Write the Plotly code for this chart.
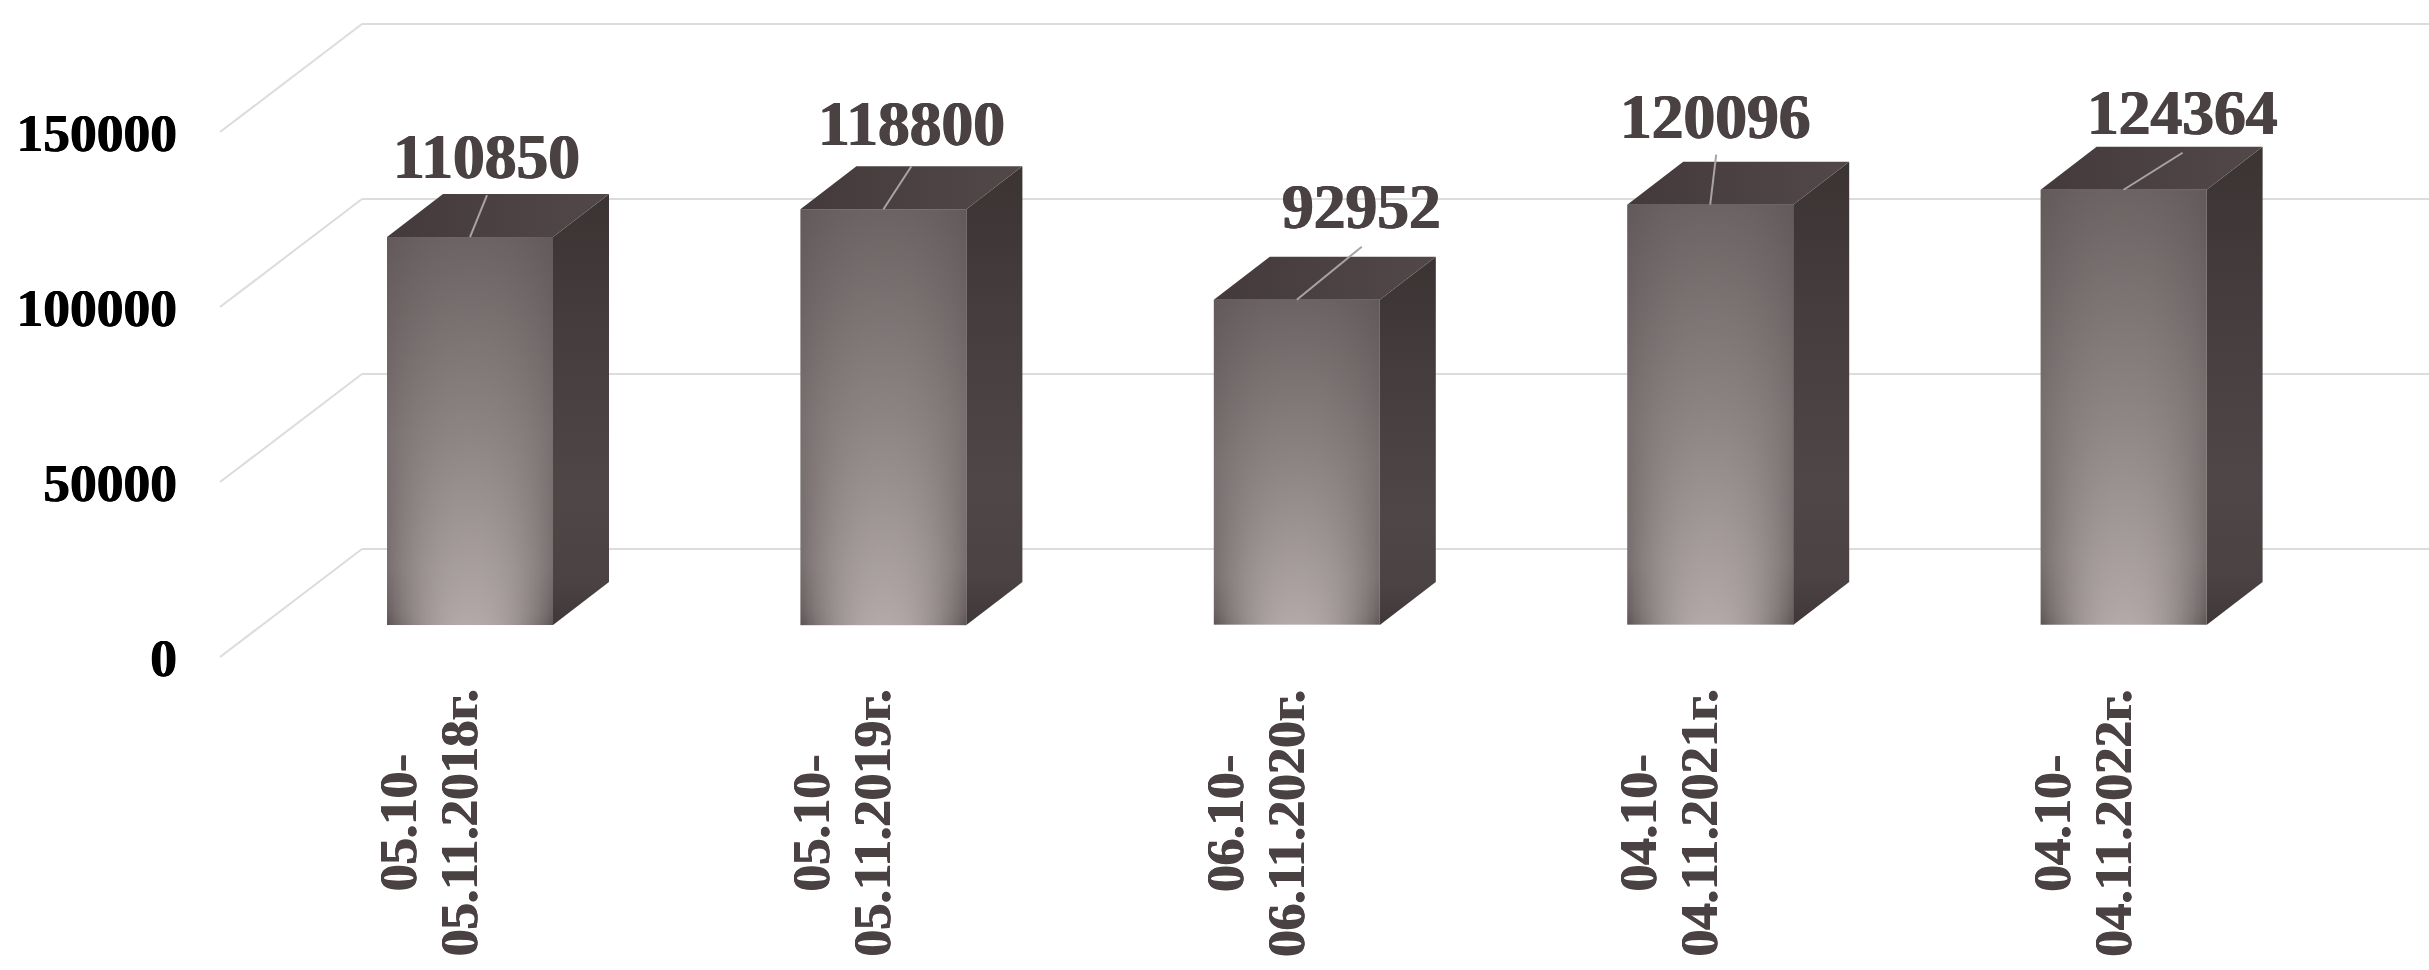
import numpy as np
import plotly.graph_objects as go

# ---- data ----
period_start = ["05.10-", "05.10-", "06.10-", "04.10-", "04.10-"]
period_end = ["05.11.2018г.", "05.11.2019г.", "06.11.2020г.", "04.11.2021г.", "04.11.2022г."]
values = [110850, 118800, 92952, 120096, 124364]
y_ticks = [0, 50000, 100000, 150000]

# label and leader-line placement relative to each bar's front top centre (px)
label_dx = [16, 28, 65, 5, 59]
label_dy = [-81, -86, -93, -88, -77]
leader_dx = [17, 28, 65, 6, 59]
leader_dy = [-42, -43, -53, -50, -37]

# ---- layout constants ----
W, H = 2429, 970
LEFT = 178
PX_Y0 = 657
PX_PER_VAL = 175 / 50000
PX_X0 = 470
PX_PER_CAT = 413.4
TEXT = "#4a4143"
FONT = "Liberation Serif"
HEAVY_TEXT = "0.7px 0 0 #4a4143, -0.7px 0 0 #4a4143"
HEAVY_BLACK = "0.6px 0 0 #000000, -0.6px 0 0 #000000"


def dx_px(p):
    return p / PX_PER_CAT


def dy_px(p):
    return p / PX_PER_VAL


x_range = [(LEFT - PX_X0) / PX_PER_CAT, (W - PX_X0) / PX_PER_CAT]
y_range = [(PX_Y0 - H) / PX_PER_VAL, PX_Y0 / PX_PER_VAL]

half_w = dx_px(83)
base = dy_px(32)
depth_x, depth_y = dx_px(56), dy_px(43)
wall_x0 = dx_px(220 - PX_X0)
wall_x1 = dx_px(362 - PX_X0)
wall_dy = dy_px(108)

fig = go.Figure()

# gridlines: side wall + back wall, below all traces
shapes = []
for v in y_ticks:
    for (x0, y0, x1, y1) in [(wall_x0, v, wall_x1, v + wall_dy), (wall_x1, v + wall_dy, x_range[1], v + wall_dy)]:
        shapes.append(dict(type="line", xref="x", yref="y", x0=x0, y0=y0, x1=x1, y1=y1,
                           layer="below", line=dict(color="#dcdcdc", width=2)))

front_scale = [[0.0, "#5a5152"], [1.0, "#b4aaaa"]]
side_scale = [[0.0, "#3f3738"], [0.1, "#4a4243"], [0.3, "#4e4647"], [0.7, "#443c3d"], [1.0, "#3b3433"]]
top_scale = [[0.0, "#443a3c"], [1.0, "#524849"]]
SHADE_Y = [0, 0.04, 0.15, 0.5, 1]
SHADE_EDGE = [0x5c, 0x6a, 0x78, 0x78, 0x62]
SHADE_CENTRE = [0xb4, 0xb0, 0xa8, 0x8d, 0x6c]

for i, v in enumerate(values):
    top = base + v
    # front face shading: bright at bottom centre, darker upward and toward the edges
    nx, ny = 70, 120
    hx = 2 * half_w / nx
    hy = v / ny
    gx = np.linspace(i - half_w + hx / 2, i + half_w - hx / 2, nx)
    gy = np.linspace(base + hy / 2, top - hy / 2, ny)
    frac_x = np.abs(gx - i) / half_w
    frac_y = (gy - base) / v
    edge = np.interp(frac_y, SHADE_Y, SHADE_EDGE)
    centre = np.interp(frac_y, SHADE_Y, SHADE_CENTRE)
    shade = edge[:, None] + (centre - edge)[:, None] * (1 - frac_x[None, :] ** 2.2)
    fig.add_trace(go.Heatmap(x=gx, y=gy, z=shade, zmin=0x5a, zmax=0xb4, colorscale=front_scale,
                             showscale=False, hoverinfo="skip", zsmooth="best"))
    # side face
    fig.add_trace(go.Scatter(
        x=[i + half_w, i + half_w + depth_x, i + half_w + depth_x, i + half_w, i + half_w],
        y=[base, base + depth_y, top + depth_y, top, base],
        mode="lines", line=dict(width=0), fill="toself",
        fillgradient=dict(type="vertical", colorscale=side_scale, start=base, stop=top + depth_y),
        hoverinfo="skip", showlegend=False))
    # top face
    fig.add_trace(go.Scatter(
        x=[i - half_w, i + half_w, i + half_w + depth_x, i - half_w + depth_x, i - half_w],
        y=[top, top, top + depth_y, top + depth_y, top],
        mode="lines", line=dict(width=0), fill="toself",
        fillgradient=dict(type="horizontal", colorscale=top_scale, start=i - half_w, stop=i + half_w + depth_x),
        hoverinfo="skip", showlegend=False))
    # leader line
    fig.add_trace(go.Scatter(
        x=[i, i + dx_px(leader_dx[i])], y=[top, top - dy_px(leader_dy[i])],
        mode="lines", line=dict(color="#a8a4a4", width=2), hoverinfo="skip", showlegend=False))
    # data label
    fig.add_annotation(x=i, y=top, xref="x", yref="y", text=str(v), showarrow=False,
                       xanchor="center", yanchor="middle",
                       xshift=label_dx[i], yshift=-label_dy[i],
                       font=dict(family=FONT, size=63.5, color=TEXT, weight="bold", shadow=HEAVY_TEXT))
    # category label, two centred lines
    for text, offset in [(period_start[i], -72), (period_end[i], -11)]:
        fig.add_annotation(x=i + dx_px(offset), y=dy_px(PX_Y0 - 823), xref="x", yref="y",
                           text=text, showarrow=False,
                           textangle=-90, xanchor="center", yanchor="middle",
                           font=dict(family=FONT, size=53, color=TEXT, weight="bold", shadow=HEAVY_TEXT))

fig.update_layout(
    width=W, height=H, showlegend=False, paper_bgcolor="white", plot_bgcolor="white",
    margin=dict(l=LEFT, r=0, t=0, b=0), shapes=shapes,
    xaxis=dict(range=x_range, visible=False, fixedrange=True),
    yaxis=dict(range=y_range, tickmode="array", tickvals=y_ticks, ticktext=[str(t) for t in y_ticks],
               showgrid=False, zeroline=False, showline=False, ticks="", fixedrange=True,
               tickfont=dict(family=FONT, size=53.5, color="#000000", weight="bold", shadow=HEAVY_BLACK)),
)

fig.write_html("out.html", post_script="document.body.style.margin='0';", config=dict(displayModeBar=False))
